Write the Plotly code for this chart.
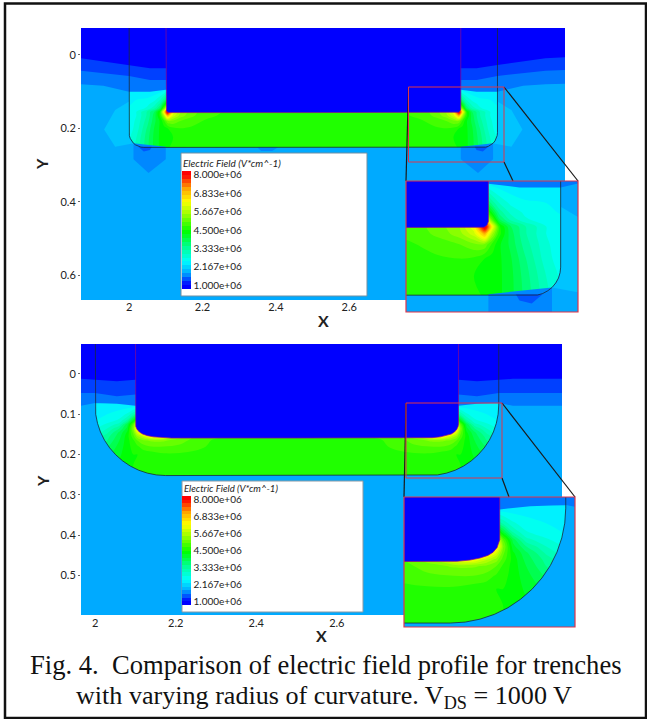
import plotly.graph_objects as go

W, H = 647, 719
FONT = "Lato"

# ---------- data (field values in 1e6 V/cm; left half of a symmetric trench) ----------
LEGEND_TICKS = [1.000e6, 2.167e6, 3.333e6, 4.500e6, 5.667e6, 6.833e6, 8.000e6]
LEGEND_TEXT = ["1.000e+06", "2.167e+06", "3.333e+06", "4.500e+06", "5.667e+06", "6.833e+06", "8.000e+06"]
COLOR_STOPS = [(1.0, "#0000ff"), (1.75, "#00aaff"), (2.5, "#00ffff"), (3.4, "#00ff99"), (4.4, "#00ff00"),
               (5.6, "#aaff00"), (6.3, "#ffff00"), (7.1, "#ffaa00"), (8.0, "#ff0000")]

# top panel: small radius
top_center = 2.502
top_x = [1.99, 2.02, 2.05, 2.07, 2.085, 2.095, 2.105, 2.12, 2.14, 2.17, 2.21, 2.27, 2.502]
top_y = [0.00, 0.06, 0.09, 0.122, 0.135, 0.145, 0.155, 0.165, 0.18, 0.20, 0.225, 0.26]
top_z = [
    [1.9, 1.9, 1.9, 1.9, 1.9, 1.9, 1.9, 1.9, 1.9, 1.9, 1.9, 1.9, 1.9],
    [2.0, 2.0, 2.0, 2.0, 2.0, 2.0, 2.0, 2.0, 2.0, 2.0, 2.0, 2.0, 2.0],
    [2.2, 2.2, 2.2, 2.2, 2.2, 2.2, 2.2, 2.2, 2.2, 2.2, 2.2, 2.2, 2.2],
    [2.4, 2.5, 2.55, 2.7, 3.0, 3.4, 4.0, 4.0, 4.0, 4.0, 4.0, 4.0, 4.0],
    [2.45, 2.55, 2.7, 2.95, 3.4, 4.2, 5.0, 5.0, 5.0, 5.0, 5.0, 5.0, 5.0],
    [2.5, 2.6, 2.8, 3.2, 3.8, 5.0, 6.5, 6.0, 5.5, 5.1, 4.8, 4.7, 4.6],
    [2.5, 2.75, 3.3, 3.8, 4.6, 6.4, 8.5, 6.2, 5.5, 5.1, 4.85, 4.7, 4.6],
    [2.5, 2.75, 3.3, 3.9, 4.6, 5.6, 7.0, 5.9, 5.4, 5.05, 4.85, 4.65, 4.6],
    [2.5, 2.8, 3.4, 3.95, 4.3, 4.7, 5.2, 5.2, 5.0, 4.9, 4.7, 4.65, 4.6],
    [2.5, 2.85, 3.55, 4.05, 4.3, 4.4, 4.5, 4.7, 4.75, 4.7, 4.6, 4.6, 4.6],
    [2.55, 3.0, 3.65, 4.1, 4.3, 4.35, 4.4, 4.5, 4.6, 4.6, 4.6, 4.6, 4.6],
    [2.6, 3.1, 3.7, 4.1, 4.3, 4.4, 4.5, 4.6, 4.6, 4.6, 4.6, 4.6, 4.6],
]
top_oxide_x = [2.000, 2.000, 2.0008, 2.003, 2.0067, 2.0117, 2.0178, 2.0247, 2.0322, 2.040, 2.502]
top_oxide_y = [-0.200, 0.212, 0.2198, 0.2273, 0.2342, 0.2403, 0.2452, 0.249, 0.2512, 0.252, 0.252]
top_trench_x = [2.100, 2.100, 2.102, 2.106, 2.112, 2.502]
top_trench_y = [-0.200, 0.148, 0.153, 0.156, 0.157, 0.157]
top_band1 = ([1.80, 1.869, 2.000, 2.057, 2.100, 2.502], [0.005, 0.009, 0.027, 0.036, 0.036, 0.036])
top_band2 = ([1.80, 1.869, 2.000, 2.057, 2.100, 2.502], [0.040, 0.043, 0.057, 0.068, 0.068, 0.068])
top_band3 = ([1.80, 1.869, 1.930, 2.000, 2.057, 2.100, 2.502], [0.078, 0.080, 0.084, 0.100, 0.100, 0.095, 0.095])
top_blob_x = [2.000, 1.962, 1.932, 1.962, 2.010, 2.0117, 2.003, 2.000]
top_blob_y = [0.127, 0.150, 0.203, 0.250, 0.241, 0.2403, 0.2273, 0.212]
top_pool_x = [2.012, 2.012, 2.053, 2.100, 2.100]
top_pool_y = [0.2405, 0.284, 0.322, 0.284, 0.250]
top_pool2_x = [2.025, 2.040, 2.057, 2.062]
top_pool2_y = [0.250, 0.263, 0.259, 0.250]
top_bump_x = [2.350, 2.360, 2.390, 2.405]
top_bump_y = [0.252, 0.262, 0.262, 0.252]

# bottom panel: large radius
bot_center = 2.501
bot_x = [1.99, 2.03, 2.06, 2.08, 2.095, 2.105, 2.12, 2.14, 2.17, 2.21, 2.25, 2.30, 2.501]
bot_y = [0.00, 0.05, 0.08, 0.10, 0.115, 0.125, 0.135, 0.145, 0.155, 0.165, 0.18, 0.20, 0.225, 0.26]
bot_z = [
    [1.9, 1.9, 1.9, 1.9, 1.9, 1.9, 1.9, 1.9, 1.9, 1.9, 1.9, 1.9, 1.9],
    [2.0, 2.0, 2.0, 2.0, 2.0, 2.0, 2.0, 2.0, 2.0, 2.0, 2.0, 2.0, 2.0],
    [2.3, 2.35, 2.4, 2.4, 2.4, 2.4, 2.4, 2.4, 2.4, 2.4, 2.4, 2.4, 2.4],
    [2.4, 2.5, 2.6, 2.8, 3.2, 3.5, 3.5, 3.5, 3.5, 3.5, 3.5, 3.5, 3.5],
    [2.45, 2.6, 2.8, 3.3, 4.2, 5.0, 5.0, 5.0, 5.0, 5.0, 5.0, 5.0, 5.0],
    [2.5, 2.8, 3.1, 3.9, 5.0, 6.2, 6.2, 6.2, 6.2, 6.2, 6.2, 6.2, 6.2],
    [2.6, 3.0, 3.5, 4.1, 5.3, 6.6, 7.2, 7.2, 7.2, 7.2, 7.2, 7.2, 7.2],
    [2.7, 3.2, 3.8, 4.3, 5.1, 6.0, 7.0, 7.4, 7.0, 6.5, 6.0, 5.5, 5.0],
    [2.9, 3.4, 3.9, 4.4, 4.9, 5.4, 5.8, 6.4, 6.3, 5.4, 5.0, 4.8, 4.6],
    [3.0, 3.5, 4.0, 4.4, 4.7, 5.0, 5.2, 5.3, 5.3, 5.1, 4.9, 4.7, 4.6],
    [3.2, 3.7, 4.1, 4.4, 4.6, 4.7, 4.9, 5.0, 5.0, 4.95, 4.8, 4.7, 4.6],
    [3.4, 3.9, 4.2, 4.4, 4.5, 4.5, 4.55, 4.6, 4.7, 4.7, 4.7, 4.6, 4.6],
    [3.5, 4.0, 4.3, 4.4, 4.5, 4.55, 4.6, 4.6, 4.6, 4.6, 4.6, 4.6, 4.6],
    [3.5, 4.0, 4.3, 4.4, 4.5, 4.55, 4.6, 4.6, 4.6, 4.6, 4.6, 4.6, 4.6],
]
bot_oxide_x = [2.000, 2.000, 2.0015, 2.006, 2.0133, 2.0234, 2.0362, 2.0513, 2.0685, 2.0875, 2.108, 2.1297, 2.1522, 2.175, 2.501]
bot_oxide_y = [-0.200, 0.077, 0.0998, 0.1223, 0.144, 0.1645, 0.1835, 0.2007, 0.2158, 0.2286, 0.2387, 0.246, 0.2505, 0.252, 0.252]
bot_trench_x = [2.100, 2.100, 2.101, 2.104, 2.110, 2.118, 2.130, 2.145, 2.165, 2.190, 2.501]
bot_trench_y = [-0.200, 0.125, 0.130, 0.137, 0.144, 0.149, 0.153, 0.156, 0.158, 0.159, 0.159]
bot_band1 = ([1.80, 1.965, 2.000, 2.054, 2.100, 2.501], [0.012, 0.012, 0.014, 0.018, 0.014, 0.014])
bot_band2 = ([1.80, 1.965, 2.000, 2.054, 2.100, 2.501], [0.047, 0.047, 0.047, 0.055, 0.051, 0.051])
bot_band3 = ([1.80, 1.965, 2.000, 2.054, 2.100, 2.501], [0.079, 0.079, 0.072, 0.074, 0.079, 0.079])

PANEL_TOP = dict(px=(81, 565), py=(28, 300), xr=(1.869, 3.188), yr=(0.668, -0.0736), yticks=[0, 0.2, 0.4, 0.6])
PANEL_BOT = dict(px=(81, 562), py=(344, 615), xr=(1.965, 3.159), yr=(0.598, -0.0744), yticks=[0, 0.1, 0.2, 0.3, 0.4, 0.5])
INSET_TOP = dict(px=(406, 578), py=(181, 312), xr=(2.790, 3.028), yr=(0.275, 0.091))
INSET_BOT = dict(px=(404, 575), py=(497, 627), xr=(2.757, 3.016), yr=(0.258, 0.060))
X_TICKS = [2, 2.2, 2.4, 2.6]

# ---------- helpers ----------
def mirror(xs, ys, c):
    """Full symmetric outline from a left-half outline."""
    return list(xs) + [2 * c - x for x in reversed(xs)], list(ys) + list(reversed(ys))

def mirror_grid(xs, z, c):
    full_x = list(xs) + [2 * c - x for x in reversed(xs[:-1])]
    full_z = [list(r) + list(reversed(r[:-1])) for r in z]
    return full_x, full_z

def px(x):
    return x / W

def py(y):
    return 1 - y / H

lo, hi = 0.75e6, 8.25e6
scale = [[(v * 1e6 - lo) / (hi - lo), c] for v, c in COLOR_STOPS]
scale = [[0, "#0000ff"]] + scale + [[1, "#ff0000"]]

fig = go.Figure()

def poly(xs, ys, color, ax):
    fig.add_trace(go.Scatter(x=xs, y=ys, mode="lines", fill="toself", fillcolor=color, line=dict(width=0),
                             hoverinfo="skip", showlegend=False, xaxis=ax[0], yaxis=ax[1]))

def outline(xs, ys, color, width, ax):
    fig.add_trace(go.Scatter(x=xs, y=ys, mode="lines", line=dict(color=color, width=width),
                             hoverinfo="skip", showlegend=False, xaxis=ax[0], yaxis=ax[1]))

def band(edge, color, ax, c):
    ex, ey = mirror(*edge, c)
    poly([ex[0]] + ex + [ex[-1]], [-0.3] + ey + [-0.3], color, ax)

def draw(ax, c, gx, gy, gz, oxide, trench, bands, extras, singles, colorbar):
    fx, fz = mirror_grid(gx, gz, c)
    fig.add_trace(go.Contour(x=fx, y=gy, z=[[v * 1e6 for v in r] for r in fz], xaxis=ax[0], yaxis=ax[1],
                             colorscale=scale, zmin=lo, zmax=hi, autocontour=False,
                             contours=dict(start=lo, end=hi, size=0.25e6, coloring="fill", showlines=False),
                             line=dict(width=0), hoverinfo="skip", showscale=colorbar is not None,
                             colorbar=colorbar))
    ox, oy = mirror(*oxide, c)
    poly([1.7] + ox + [3.4, 3.4, 1.7, 1.7], [-0.3] + oy + [-0.3, 0.9, 0.9, -0.3], "#00aaff", ax)
    for xs, ys, color in extras:
        poly(xs, ys, color, ax)
        poly([2 * c - x for x in xs], ys, color, ax)
    for xs, ys, color in singles:
        poly(xs, ys, color, ax)
    for edge, color in zip(bands, ["#0077ff", "#0040ff", "#0000ff"]):
        band(edge, color, ax, c)
    tx, ty = mirror(*trench, c)
    poly(tx, ty, "#0000ff", ax)
    outline(ox, oy, "#1b2a3a", 0.8, ax)
    outline(tx, ty, "#8a0a8a", 0.7, ax)

def colorbar(y_top, y_bot):
    return dict(x=px(182), xanchor="left", xpad=0, ypad=0, y=py(y_top), yanchor="top",
                lenmode="pixels", len=y_bot - y_top, thicknessmode="pixels", thickness=8.5,
                outlinewidth=0, borderwidth=0, ticks="", tickvals=LEGEND_TICKS, ticktext=LEGEND_TEXT,
                tickfont=dict(family=FONT, size=10, color="#222222"))

top_extras = [(top_blob_x, top_blob_y, "#00c4ff"), (top_pool_x, top_pool_y, "#0088ff"),
              (top_pool2_x, top_pool2_y, "#0055ff")]
top_singles = [(top_bump_x, top_bump_y, "#0088ff")]
top_args = (top_center, top_x, top_y, top_z, (top_oxide_x, top_oxide_y), (top_trench_x, top_trench_y),
            [top_band3, top_band2, top_band1], top_extras, top_singles)
bot_args = (bot_center, bot_x, bot_y, bot_z, (bot_oxide_x, bot_oxide_y), (bot_trench_x, bot_trench_y),
            [bot_band3, bot_band2, bot_band1], [], [])
draw(("x", "y"), *top_args, colorbar(171, 289))
draw(("x2", "y2"), *bot_args, colorbar(496, 605))
draw(("x3", "y3"), *top_args, None)
draw(("x4", "y4"), *bot_args, None)

tick_font = dict(family=FONT, size=11, color="#222222")

def axis(p, which, anchor, ticks=None, standoff=0, ticklen=2):
    pr = p["px"] if which == "x" else p["py"]
    dom = [px(pr[0]), px(pr[1])] if which == "x" else [py(pr[1]), py(pr[0])]
    d = dict(domain=dom, range=list(p["xr"] if which == "x" else p["yr"]), showgrid=False, zeroline=False,
             showline=False, anchor=anchor)
    if ticks is None:
        d.update(showticklabels=False, ticks="")
    else:
        d.update(tickvals=ticks, ticktext=[f"{t:g}" for t in ticks], ticks="outside", ticklen=ticklen, tickwidth=1,
                 tickcolor="#666666", tickfont=tick_font, ticklabelstandoff=standoff)
    return d

def rect(x0, y0, x1, y1, color, width, fill="rgba(0,0,0,0)"):
    return dict(type="rect", xref="paper", yref="paper", x0=px(x0), x1=px(x1), y0=py(y0), y1=py(y1),
                line=dict(color=color, width=width), fillcolor=fill, layer="above")

def seg(x0, y0, x1, y1, color="#1a1a1a", width=1.2):
    return dict(type="line", xref="paper", yref="paper", x0=px(x0), x1=px(x1), y0=py(y0), y1=py(y1),
                line=dict(color=color, width=width), layer="above")

RED = "#e0344a"
shapes = [
    rect(5, 3.5, 646, 718, "#111111", 2.5),
    rect(181, 153, 367, 296, "#6f8fa3", 1, "#ffffff"),
    rect(182, 481, 363, 612, "#8a98a3", 1, "#ffffff"),
    # zoom connectors
    seg(408.5, 87, 406, 181), seg(504, 87, 578, 181), seg(504, 162, 513, 181),
    seg(406, 403, 404, 497), seg(502, 403, 575, 497), seg(502, 478, 509, 497),
    # zoom boxes
    rect(408.5, 87, 504, 162, RED, 1), rect(406, 403, 502, 478, RED, 1),
    rect(406, 181, 578, 312, RED, 1.2), rect(404, 497, 575, 627, RED, 1.2),
]

def text(x, y, s, size, family=FONT, color="#222222", xanchor="center", yanchor="middle", **kw):
    return dict(xref="paper", yref="paper", x=px(x), y=py(y), text=s, showarrow=False, xanchor=xanchor,
                yanchor=yanchor, font=dict(family=family, size=size, color=color), **kw)

SERIF = "Liberation Serif"
annotations = [
    text(323, 320, "<b>X</b>", 16), text(321, 635, "<b>X</b>", 16),
    text(42, 164, "<b>Y</b>", 16, textangle=-90), text(42, 481, "<b>Y</b>", 16, textangle=-90),
    text(181, 163, "<i>Electric Field (V*cm^-1)</i>", 10, xanchor="left"),
    text(182, 488.5, "<i>Electric Field (V*cm^-1)</i>", 9.6, xanchor="left"),
    text(325.5, 665, "Fig. 4.  Comparison of electric field profile for trenches", 26.6, family=SERIF, color="#111111"),
    text(324, 697, "with varying radius of curvature. V<sub>DS</sub> = 1000 V", 26.1, family=SERIF, color="#111111"),
]

fig.update_layout(width=W, height=H, margin=dict(l=0, r=0, t=0, b=0), paper_bgcolor="white", plot_bgcolor="white",
                  showlegend=False, shapes=shapes, annotations=annotations,
                  xaxis=axis(PANEL_TOP, "x", "y", X_TICKS, standoff=-3, ticklen=0), yaxis=axis(PANEL_TOP, "y", "x", PANEL_TOP["yticks"]),
                  xaxis2=axis(PANEL_BOT, "x", "y2", X_TICKS, standoff=-2, ticklen=0), yaxis2=axis(PANEL_BOT, "y", "x2", PANEL_BOT["yticks"]),
                  xaxis3=axis(INSET_TOP, "x", "y3"), yaxis3=axis(INSET_TOP, "y", "x3"),
                  xaxis4=axis(INSET_BOT, "x", "y4"), yaxis4=axis(INSET_BOT, "y", "x4"))

fig.write_html("out.html", config={"displayModeBar": False},
               post_script="document.body.style.margin='0';document.documentElement.style.overflow='hidden';")
